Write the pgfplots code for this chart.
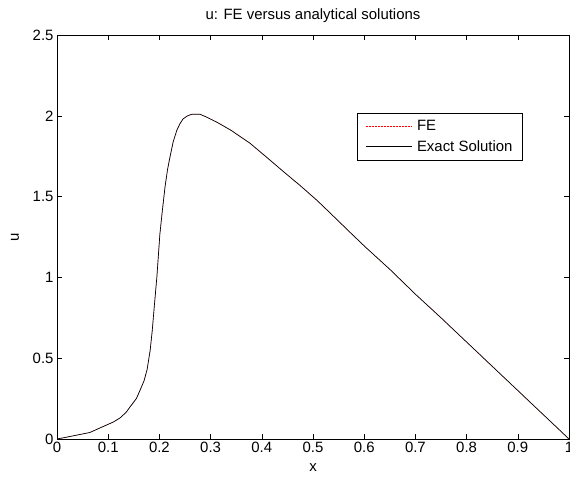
\documentclass[border=0pt]{standalone}
\usepackage{fontspec}
\setmainfont{Liberation Sans}
\usepackage{pgfplots}
\pgfplotsset{compat=1.18}
\usepackage{pgfplotstable}
\pgfplotstableread{
x u
0 0
0.02 0.012
0.04 0.025
0.064 0.04
0.085 0.07
0.11 0.105
0.123 0.13
0.135 0.165
0.143 0.2
0.155 0.25
0.162 0.30
0.17 0.36
0.176 0.43
0.182 0.55
0.186 0.67
0.19 0.82
0.195 1.0
0.201 1.27
0.206 1.42
0.211 1.56
0.216 1.67
0.221 1.75
0.227 1.84
0.234 1.91
0.24 1.95
0.246 1.98
0.255 2.0
0.264 2.01
0.279 2.01
0.29 1.995
0.3125 1.96
0.34 1.91
0.377 1.83
0.41 1.742
0.441 1.658
0.475 1.568
0.508 1.476
0.533 1.40
0.572 1.28
0.6016 1.19
0.65 1.05
0.701 0.893
0.75 0.75
0.80 0.60
0.85 0.45
0.90 0.30
0.95 0.15
1.0 0
}\datatable
\begin{document}
\begin{tikzpicture}
\begin{axis}[
  at={(57bp,42bp)}, anchor=south west,
  scale only axis, width=512bp, height=404bp,
  xmin=0, xmax=1, ymin=0, ymax=2.5,
  xtick={0,0.1,0.2,0.3,0.4,0.5,0.6,0.7,0.8,0.9,1},
  ytick={0,0.5,1,1.5,2,2.5},
  xticklabels={0,0.1,0.2,0.3,0.4,0.5,0.6,0.7,0.8,0.9,1},
  yticklabels={0,0.5,1,1.5,2,2.5},
  tick align=inside, major tick length=5bp,
  tick style={black, line width=0.5pt},
  axis line style={black, line width=0.6pt},
  tick label style={font=\fontsize{15}{17}\selectfont},
  /pgf/number format/assume math mode=true,
  title={u: FE versus analytical solutions},
  title style={font=\fontsize{15}{17}\selectfont, at={(axis description cs:0.5,1)}, anchor=base, yshift=10bp},
  xlabel={x},
  xlabel style={font=\fontsize{15}{17}\selectfont, at={(axis description cs:0.5,0)}, anchor=base, yshift=-33bp},
  ylabel={u},
  ylabel style={font=\fontsize{15}{17}\selectfont, at={(axis description cs:-0.082,0.5)}, anchor=center},
  legend style={at={(0.586,0.807)}, anchor=north west, draw=black, line width=0.6pt,
    font=\fontsize{15}{17}\selectfont, inner xsep=8bp, inner ysep=5bp,
    row sep=4.5bp, column sep=3bp},
  legend cell align=left,
  legend image code/.code={\draw[#1] (0bp,0bp) -- (46bp,0bp);},
]
\addplot[red, line width=0.5pt, densely dotted] table[x=x,y=u] {\datatable};
\addlegendentry{FE}
\addplot[black, line width=0.7pt] table[x=x,y=u] {\datatable};
\addlegendentry{Exact Solution}
\end{axis}
\pgfresetboundingbox
\path (0,0) rectangle (570bp,481bp);
\end{tikzpicture}
\end{document}
